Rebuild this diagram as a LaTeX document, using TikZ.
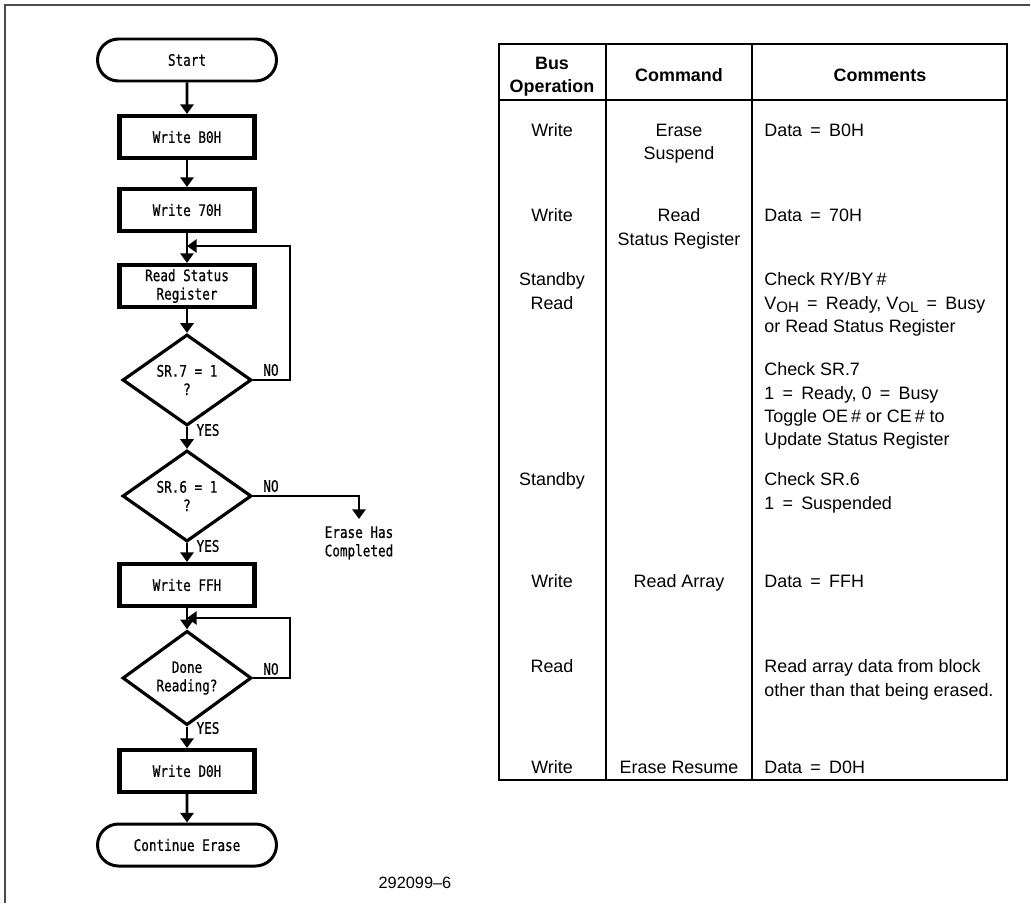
\documentclass[tikz,border=0pt]{standalone}
\usepackage{fontspec}
\setmainfont{Liberation Sans}
\newfontfamily\flowfont[FakeStretch=0.8,FakeBold=0.6]{DejaVu Sans Mono}
\usetikzlibrary{arrows.meta,shapes.geometric,shapes.misc}
\newcommand\eqs{\hspace{0.46em}=\hspace{0.46em}}
\newcommand\vsub[1]{\raisebox{-0.35ex}{\fontsize{8.6}{8.6}\selectfont #1}}

\tikzset{
  flowtext/.style={font=\flowfont\fontsize{9}{10.5}\selectfont, align=center},
  term/.style={flowtext, draw, line width=1.7pt, rounded rectangle, minimum width=3.58cm, minimum height=0.84cm, inner sep=0pt},
  stepbox/.style={flowtext, draw, line width=2.3pt, rectangle, minimum width=2.7cm, minimum height=0.84cm, inner sep=0pt},
  decide/.style={flowtext, draw, line width=1.8pt, diamond, minimum width=2.58cm, minimum height=1.54cm, inner sep=0pt},
  flow/.style={line width=1.5pt, -{Triangle[length=5.5pt,width=7.5pt]}},
  yesno/.style={flowtext, inner sep=0pt},
  celltext/.style={font=\fontsize{10.2}{13.3}\selectfont, inner sep=0pt},
  cellc/.style={celltext, anchor=north, align=center},
  celll/.style={celltext, anchor=north west, align=left},
}

\begin{document}
\begin{tikzpicture}[x=0.02cm, y=-0.02cm]
  \useasboundingbox (0,0) rectangle (1031,903);

  % frame
  \draw[line width=1.2pt, black!70] (5,903) -- (5,5) -- (1030,5);

  % flow chart
  \node[term] (start) at (187,60) {Start};
  \node[stepbox] (wb0) at (187,137) {Write B0H};
  \node[stepbox] (w70) at (187,210) {Write 70H};
  \node[stepbox] (rsr) at (187,286) {Read Status\\Register};
  \node[decide] (sr7) at (187,380) {SR.7 = 1\\?};
  \node[decide] (sr6) at (187,496) {SR.6 = 1\\?};
  \node[stepbox] (wff) at (187,585) {Write FFH};
  \node[decide] (done) at (187,678) {Done\\Reading?};
  \node[stepbox] (wd0) at (187,771) {Write D0H};
  \node[term] (cont) at (187,845) {Continue Erase};

  \node[flowtext, anchor=north, inner sep=0pt] (ehc) at (359,526) {Erase Has\\Completed};

  \coordinate (j1) at (187,246);
  \coordinate (j2) at (187,618);

  \draw[flow] (start) -- (wb0);
  \draw[flow] (wb0) -- (w70);
  \draw[flow] (w70) -- (rsr);
  \draw[flow] (rsr) -- (sr7);
  \draw[flow] (sr7) -- (sr6);
  \draw[flow] (sr6) -- (wff);
  \draw[flow] (wff) -- (done);
  \draw[flow] (done) -- (wd0);
  \draw[flow] (wd0) -- (cont);

  \draw[flow] (sr7.east) -- ++(37,0) |- (j1);
  \draw[flow] (done.east) -- ++(37,0) |- (j2);
  \draw[flow] (sr6.east) -| ([yshift=4pt]ehc.north);

  \node[yesno] (no7) at (271,370) {NO};
  \node[yesno] (yes7) at (208,430) {YES};
  \node[yesno] (no6) at (271,486) {NO};
  \node[yesno] (yes6) at (208,546) {YES};
  \node[yesno] (nod) at (271,669) {NO};
  \node[yesno] (yesd) at (208,728) {YES};

  \node[font=\fontsize{9.3}{9.3}\selectfont, inner sep=0pt] (fig) at (415,883) {292099--6};

  % table
  \draw[line width=0.6pt] (499,44) rectangle (1007,780);
  \draw[line width=0.6pt] (499,100) -- (1007,100);
  \draw[line width=0.6pt] (606,44) -- (606,780) (752,44) -- (752,780);

  \node[cellc, font=\bfseries\fontsize{10.2}{13.3}\selectfont] (hbus) at (552,56.5) {Bus\\Operation};
  \node[cellc, font=\bfseries\fontsize{10.2}{13.3}\selectfont] (hcmd) at (679,68.5) {Command};
  \node[cellc, font=\bfseries\fontsize{10.2}{13.3}\selectfont] (hcom) at (880,68.5) {Comments};

  \node[cellc] (op1) at (552,123.5) {Write};
  \node[cellc] (cmd1) at (679,123.5) {Erase\\Suspend};
  \node[celll] (com1) at (764,123.5) {Data\eqs B0H};

  \node[cellc] (op2) at (552,208.5) {Write};
  \node[cellc] (cmd2) at (679,208.5) {Read\\Status Register};
  \node[celll] (com2) at (764,208.5) {Data\eqs 70H};

  \node[cellc] (op3) at (552,272.5) {Standby\\Read};
  \node[celll] (com3) at (764,272.5) {Check RY/BY\,\#\\V\vsub{OH}\eqs Ready, V\vsub{OL}\eqs Busy\\or Read Status Register};

  \node[celll] (com4) at (764,362.5) {Check SR.7\\1\eqs Ready, 0\eqs Busy\\Toggle OE\,\# or CE\,\# to\\Update Status Register};

  \node[cellc] (op5) at (552,472.5) {Standby};
  \node[celll] (com5) at (764,472.5) {Check SR.6\\1\eqs Suspended};

  \node[cellc] (op6) at (552,574.5) {Write};
  \node[cellc] (cmd6) at (679,574.5) {Read Array};
  \node[celll] (com6) at (764,574.5) {Data\eqs FFH};

  \node[cellc] (op7) at (552,659.5) {Read};
  \node[celll] (com7) at (764,659.5) {Read array data from block\\other than that being erased.};

  \node[cellc] (op8) at (552,760.5) {Write};
  \node[cellc] (cmd8) at (679,760.5) {Erase Resume};
  \node[celll] (com8) at (764,760.5) {Data\eqs D0H};
\end{tikzpicture}
\end{document}
